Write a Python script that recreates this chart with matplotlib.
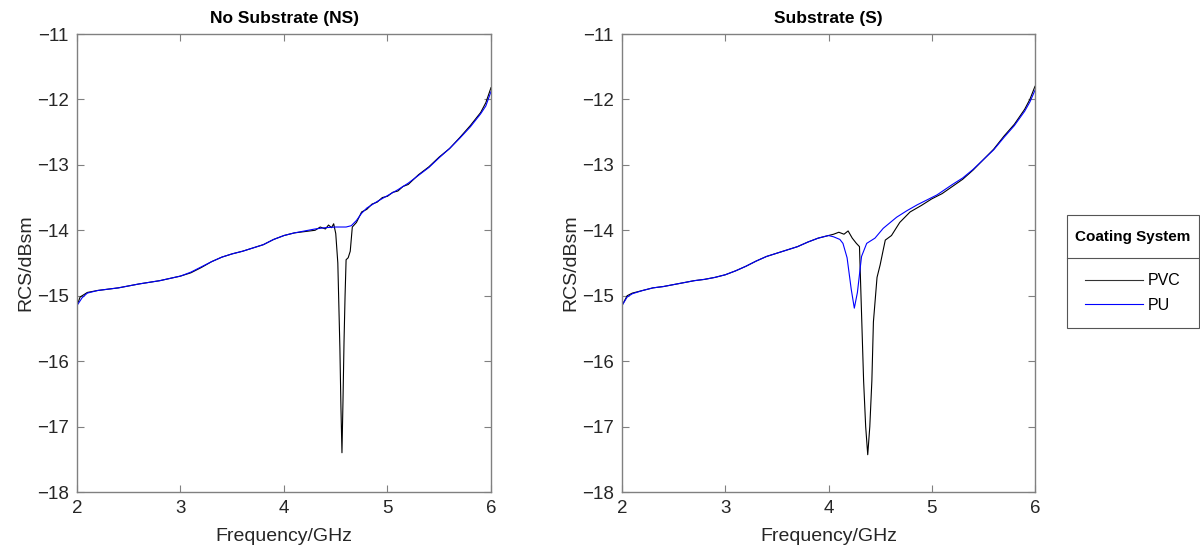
import numpy as np
from matplotlib import pyplot as plt
from matplotlib.lines import Line2D
from matplotlib.patches import Rectangle

plt.rcParams["font.family"] = ["Liberation Sans", "DejaVu Sans"]

# No Substrate (NS)
ns_pvc_f = [2.0, 2.03, 2.1, 2.2, 2.4, 2.6, 2.8, 3.0, 3.1, 3.2, 3.3, 3.4, 3.5, 3.6, 3.7,
            3.8, 3.9, 4.0, 4.1, 4.2, 4.3, 4.35, 4.4, 4.43, 4.46, 4.48, 4.5, 4.52, 4.54,
            4.55, 4.56, 4.57, 4.58, 4.59, 4.6, 4.62, 4.64, 4.66, 4.7, 4.75, 4.8, 4.85,
            4.9, 4.95, 5.0, 5.05, 5.1, 5.15, 5.2, 5.3, 5.4, 5.5, 5.6, 5.7, 5.8, 5.9,
            5.95, 6.0]
ns_pvc = [-15.15, -15.02, -14.95, -14.92, -14.88, -14.82, -14.77, -14.70, -14.65, -14.57,
          -14.48, -14.41, -14.36, -14.32, -14.27, -14.22, -14.14, -14.08, -14.04, -14.02,
          -14.00, -13.95, -13.98, -13.92, -13.96, -13.90, -14.05, -14.5, -15.8, -16.7,
          -17.40, -16.6, -15.7, -15.0, -14.45, -14.42, -14.32, -13.95, -13.88, -13.72,
          -13.68, -13.60, -13.57, -13.50, -13.48, -13.42, -13.40, -13.33, -13.30, -13.15,
          -13.03, -12.88, -12.75, -12.58, -12.40, -12.20, -12.05, -11.82]
ns_pu_f = [2.0, 2.05, 2.1, 2.2, 2.4, 2.6, 2.8, 3.0, 3.1, 3.2, 3.3, 3.4, 3.5, 3.6, 3.7, 3.8,
           3.9, 4.0, 4.1, 4.2, 4.3, 4.4, 4.5, 4.6, 4.65, 4.7, 4.75, 4.8, 4.9, 5.0, 5.1, 5.2,
           5.3, 5.4, 5.5, 5.6, 5.7, 5.8, 5.9, 5.95, 6.0]
ns_pu = [-15.15, -15.03, -14.96, -14.92, -14.88, -14.82, -14.77, -14.70, -14.64, -14.56,
         -14.48, -14.41, -14.36, -14.32, -14.27, -14.22, -14.14, -14.08, -14.04, -14.01,
         -13.98, -13.96, -13.95, -13.95, -13.93, -13.85, -13.74, -13.66, -13.56, -13.47,
         -13.38, -13.28, -13.16, -13.04, -12.89, -12.75, -12.59, -12.42, -12.22, -12.10,
         -11.88]

# Substrate (S)
s_pvc_f = [2.0, 2.05, 2.1, 2.2, 2.3, 2.4, 2.5, 2.6, 2.7, 2.8, 2.9, 3.0, 3.1, 3.2, 3.3, 3.4,
           3.5, 3.6, 3.7, 3.8, 3.9, 4.0, 4.05, 4.1, 4.15, 4.19, 4.23, 4.27, 4.3, 4.32, 4.34,
           4.36, 4.38, 4.4, 4.42, 4.435, 4.47, 4.5, 4.53, 4.55, 4.61, 4.69, 4.79, 4.9, 5.0,
           5.1, 5.2, 5.3, 5.4, 5.5, 5.6, 5.7, 5.8, 5.9, 5.95, 6.0]
s_pvc = [-15.15, -15.0, -14.96, -14.92, -14.88, -14.86, -14.83, -14.80, -14.77, -14.75,
         -14.72, -14.68, -14.62, -14.55, -14.47, -14.40, -14.35, -14.30, -14.25, -14.18,
         -14.12, -14.08, -14.06, -14.03, -14.06, -14.01, -14.12, -14.2, -14.25, -15.27,
         -16.3, -17.0, -17.43, -17.0, -16.3, -15.4, -14.72, -14.53, -14.3, -14.15, -14.08,
         -13.88, -13.72, -13.62, -13.52, -13.44, -13.33, -13.22, -13.08, -12.92, -12.76,
         -12.56, -12.38, -12.15, -12.0, -11.8]
s_pu_f = [2.0, 2.05, 2.1, 2.2, 2.3, 2.4, 2.5, 2.6, 2.7, 2.8, 2.9, 3.0, 3.1, 3.2, 3.3, 3.4,
          3.5, 3.6, 3.7, 3.8, 3.9, 4.0, 4.05, 4.11, 4.14, 4.18, 4.22, 4.25, 4.28, 4.32, 4.37,
          4.45, 4.53, 4.66, 4.76, 4.86, 5.05, 5.2, 5.3, 5.4, 5.5, 5.6, 5.7, 5.8, 5.9, 5.95,
          6.0]
s_pu = [-15.15, -15.02, -14.97, -14.92, -14.88, -14.86, -14.83, -14.80, -14.77, -14.75,
        -14.72, -14.68, -14.62, -14.55, -14.47, -14.40, -14.35, -14.30, -14.25, -14.18,
        -14.12, -14.08, -14.10, -14.14, -14.2, -14.42, -14.9, -15.19, -14.95, -14.4, -14.2,
        -14.12, -13.97, -13.8, -13.7, -13.61, -13.46, -13.30, -13.2, -13.07, -12.92,
        -12.77, -12.58, -12.4, -12.18, -12.04, -11.86]

titles = ["No Substrate (NS)", "Substrate (S)"]
legend_labels = ["PVC", "PU"]
x_ticks = [2, 3, 4, 5, 6]
y_ticks = [-18, -17, -16, -15, -14, -13, -12, -11]

W, H = 1200, 548
fig = plt.figure(figsize=(W / 100, H / 100), dpi=100)

def px_axes(x0, x1, y0, y1):
    return fig.add_axes([x0 / W, 1 - y1 / H, (x1 - x0) / W, (y1 - y0) / H])

axes = [px_axes(77, 491, 34, 492), px_axes(622, 1035, 34, 492)]
data = [(ns_pvc_f, ns_pvc, ns_pu_f, ns_pu), (s_pvc_f, s_pvc, s_pu_f, s_pu)]

for ax, title, (f1, v1, f2, v2) in zip(axes, titles, data):
    ax.plot(f1, v1, color="black", lw=0.8)
    ax.plot(f2, v2, color="blue", lw=0.8)
    ax.set_xlim(2, 6)
    ax.set_ylim(-18, -11)
    ax.set_xticks(x_ticks)
    ax.set_yticks(y_ticks)
    ax.tick_params(direction="in", length=5, width=0.8, colors="#808080",
                   labelcolor="#262626", labelsize=13.5, top=True, right=True, pad=6)
    for s in ax.spines.values():
        s.set_color("#808080")
        s.set_linewidth(1.0)
    ax.set_title(title, fontsize=12.5, fontweight="bold", color="black", pad=8)
    ax.set_xlabel("Frequency/GHz", fontsize=14, color="#262626", labelpad=8)
    ax.set_ylabel("RCS/dBsm", fontsize=14, color="#262626", labelpad=2)

# legend box with title and separator
lx0, lx1, ly0, ly1, lsep = 1067, 1199, 215, 328, 258
fig.add_artist(Rectangle((lx0 / W, 1 - ly1 / H), (lx1 - lx0) / W, (ly1 - ly0) / H,
                         transform=fig.transFigure, fill=False, edgecolor="#555555", lw=0.8))
fig.add_artist(Line2D([lx0 / W, lx1 / W], [1 - lsep / H, 1 - lsep / H],
                      transform=fig.transFigure, color="#555555", lw=0.8))
fig.text((lx0 + lx1) / 2 / W, 1 - (ly0 + lsep) / 2 / H, "Coating System",
         ha="center", va="center", fontsize=11, fontweight="bold")
handles = [Line2D([], [], color="#333333", lw=0.8), Line2D([], [], color="blue", lw=0.8)]
fig.legend(handles, legend_labels, loc="center", frameon=False, fontsize=11.5,
           handlelength=3.6, handletextpad=0.3, labelspacing=0.6,
           bbox_to_anchor=((lx0 + lx1) / 2 / W, 1 - (lsep + ly1) / 2 / H))

fig.savefig("out.png", dpi=100)
